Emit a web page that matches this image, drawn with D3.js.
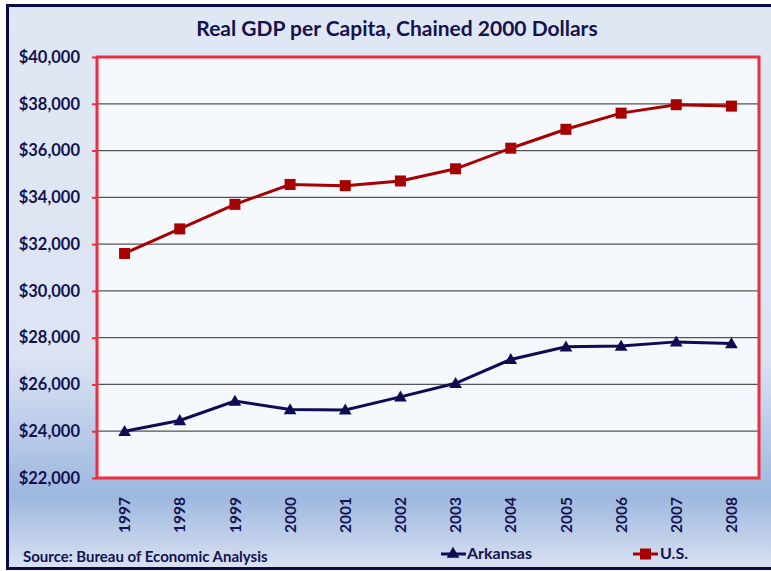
<!DOCTYPE html>
<html>
<head>
<meta charset="utf-8">
<script src="https://cdn.jsdelivr.net/npm/d3@7"></script>
<style>
  html, body { margin: 0; padding: 0; background: #ffffff; }
  svg { display: block; font-family: Lato, "Open Sans", sans-serif; }
</style>
</head>
<body>
<svg id="chart" width="771" height="571"></svg>
<script>
// ===============================
// DATA
// ===============================

const years = ["1997","1998","1999","2000","2001","2002","2003","2004","2005","2006","2007","2008"];

const usValues = [31600, 32650, 33700, 34550, 34500, 34700, 35220, 36100, 36910, 37600, 37960, 37900];

const arkansasValues = [24000, 24460, 25290, 24930, 24910, 25470, 26050, 27070, 27610, 27640, 27820, 27750];

const yTicks = [22000, 24000, 26000, 28000, 30000, 32000, 34000, 36000, 38000, 40000];

const titleText = "Real GDP per Capita, Chained 2000 Dollars";
const sourceText = "Source: Bureau of Economic Analysis";

// ===============================
// SETUP
// ===============================

const svg = d3.select("#chart");

const navy = "#14134f";
const usRed = "#a60000";
const arkNavy = "#0e0c52";
const frameRed = "#ee2d3e";

const plot = { left: 97, right: 759, top: 57, bottom: 478 };

// background gradient
const defs = svg.append("defs");
const grad = defs.append("linearGradient")
    .attr("id", "bg")
    .attr("x1", 0).attr("y1", 0)
    .attr("x2", 0).attr("y2", 1);
grad.append("stop").attr("offset", "0%").attr("stop-color", "#e0e7f4");
grad.append("stop").attr("offset", "62%").attr("stop-color", "#dce4f3");
grad.append("stop").attr("offset", "87%").attr("stop-color", "#9db7df");
grad.append("stop").attr("offset", "100%").attr("stop-color", "#d9e2f2");

// slide headline, cut off at the top edge (as in the original)
svg.append("text")
    .attr("y", -5)
    .attr("font-size", 30)
    .attr("font-weight", "bold")
    .attr("fill", "#3564a8")
    .selectAll("tspan")
    .data([{ c: "g", x: 76 }, { c: "p", x: 402 }, { c: "p", x: 540 }])
    .enter()
    .append("tspan")
    .attr("x", d => d.x)
    .text(d => d.c);

// frame
svg.append("rect")
    .attr("x", 7.5)
    .attr("y", 5.5)
    .attr("width", 800)
    .attr("height", 563)
    .attr("fill", "url(#bg)")
    .attr("stroke", "#0b0a48")
    .attr("stroke-width", 3);

// title
svg.append("text")
    .attr("x", 397)
    .attr("y", 36)
    .attr("text-anchor", "middle")
    .attr("font-size", 21)
    .attr("font-weight", "bold")
    .attr("fill", navy)
    .text(titleText);

// ===============================
// SCALES
// ===============================

const x = d3.scaleBand()
    .domain(years)
    .range([plot.left, plot.right])
    .padding(0);

const y = d3.scaleLinear()
    .domain([22000, 40000])
    .range([plot.bottom, plot.top]);

// plot area
svg.append("rect")
    .attr("x", plot.left)
    .attr("y", plot.top)
    .attr("width", plot.right - plot.left)
    .attr("height", plot.bottom - plot.top)
    .attr("fill", "#f5f8fc");

// gridlines
svg.append("g")
    .selectAll("line")
    .data(yTicks.slice(1, -1))
    .enter()
    .append("line")
    .attr("x1", plot.left)
    .attr("x2", plot.right)
    .attr("y1", d => y(d))
    .attr("y2", d => y(d))
    .attr("stroke", "#555555")
    .attr("stroke-width", 1.3);

// y axis
const yAxis = svg.append("g")
    .attr("transform", `translate(${plot.left},0)`)
    .call(
        d3.axisLeft(y)
        .tickValues(yTicks)
        .tickSize(5)
        .tickPadding(12)
        .tickFormat(d => "$" + d3.format(",")(d))
    );

yAxis.select(".domain").remove();

yAxis.selectAll(".tick line")
    .attr("stroke", frameRed)
    .attr("stroke-width", 2);

yAxis.selectAll(".tick text")
    .attr("fill", navy)
    .attr("font-size", 16.5)
    .attr("font-weight", "bold")
    .attr("font-family", "Lato, sans-serif");

// plot border
svg.append("rect")
    .attr("x", plot.left)
    .attr("y", plot.top)
    .attr("width", plot.right - plot.left)
    .attr("height", plot.bottom - plot.top)
    .attr("fill", "none")
    .attr("stroke", frameRed)
    .attr("stroke-width", 3);

// x labels
svg.append("g")
    .selectAll("text")
    .data(years)
    .enter()
    .append("text")
    .attr("transform", d => `translate(${x(d) + x.bandwidth() / 2},497) rotate(-90)`)
    .attr("text-anchor", "end")
    .attr("dy", "0.36em")
    .attr("font-size", 15.5)
    .attr("font-weight", "bold")
    .attr("fill", navy)
    .text(d => d);

// ===============================
// SERIES
// ===============================

const cx = (d, i) => x(years[i]) + x.bandwidth() / 2;

const line = d3.line()
    .x(cx)
    .y(d => y(d));

const triangle = d3.symbol().type(d3.symbolTriangle).size(70);

// Arkansas
svg.append("path")
    .datum(arkansasValues)
    .attr("fill", "none")
    .attr("stroke", arkNavy)
    .attr("stroke-width", 3)
    .attr("d", line);

svg.append("g")
    .selectAll("path")
    .data(arkansasValues)
    .enter()
    .append("path")
    .attr("d", triangle)
    .attr("transform", (d, i) => `translate(${cx(d, i)},${y(d) + 1})`)
    .attr("fill", arkNavy);

// U.S.
svg.append("path")
    .datum(usValues)
    .attr("fill", "none")
    .attr("stroke", usRed)
    .attr("stroke-width", 3)
    .attr("d", line);

svg.append("g")
    .selectAll("rect")
    .data(usValues)
    .enter()
    .append("rect")
    .attr("x", (d, i) => cx(d, i) - 5.5)
    .attr("y", d => y(d) - 5.5)
    .attr("width", 11)
    .attr("height", 11)
    .attr("fill", usRed);

// ===============================
// FOOTER: SOURCE + LEGEND
// ===============================

svg.append("text")
    .attr("x", 23)
    .attr("y", 562)
    .attr("font-size", 15)
    .attr("font-weight", "bold")
    .attr("fill", navy)
    .text(sourceText);

const legend = svg.append("g").attr("font-size", 16).attr("font-weight", "bold").attr("fill", navy);

// Arkansas legend
legend.append("line")
    .attr("x1", 441).attr("x2", 466)
    .attr("y1", 554).attr("y2", 554)
    .attr("stroke", arkNavy).attr("stroke-width", 3);
legend.append("path")
    .attr("d", triangle)
    .attr("transform", "translate(453,554)")
    .attr("fill", arkNavy);
legend.append("text")
    .attr("x", 467).attr("y", 559)
    .text("Arkansas");

// U.S. legend
legend.append("line")
    .attr("x1", 633).attr("x2", 658)
    .attr("y1", 554).attr("y2", 554)
    .attr("stroke", usRed).attr("stroke-width", 3);
legend.append("rect")
    .attr("x", 640).attr("y", 548.5)
    .attr("width", 11).attr("height", 11)
    .attr("fill", usRed);
legend.append("text")
    .attr("x", 660).attr("y", 559)
    .text("U.S.");
</script>
</body>
</html>
